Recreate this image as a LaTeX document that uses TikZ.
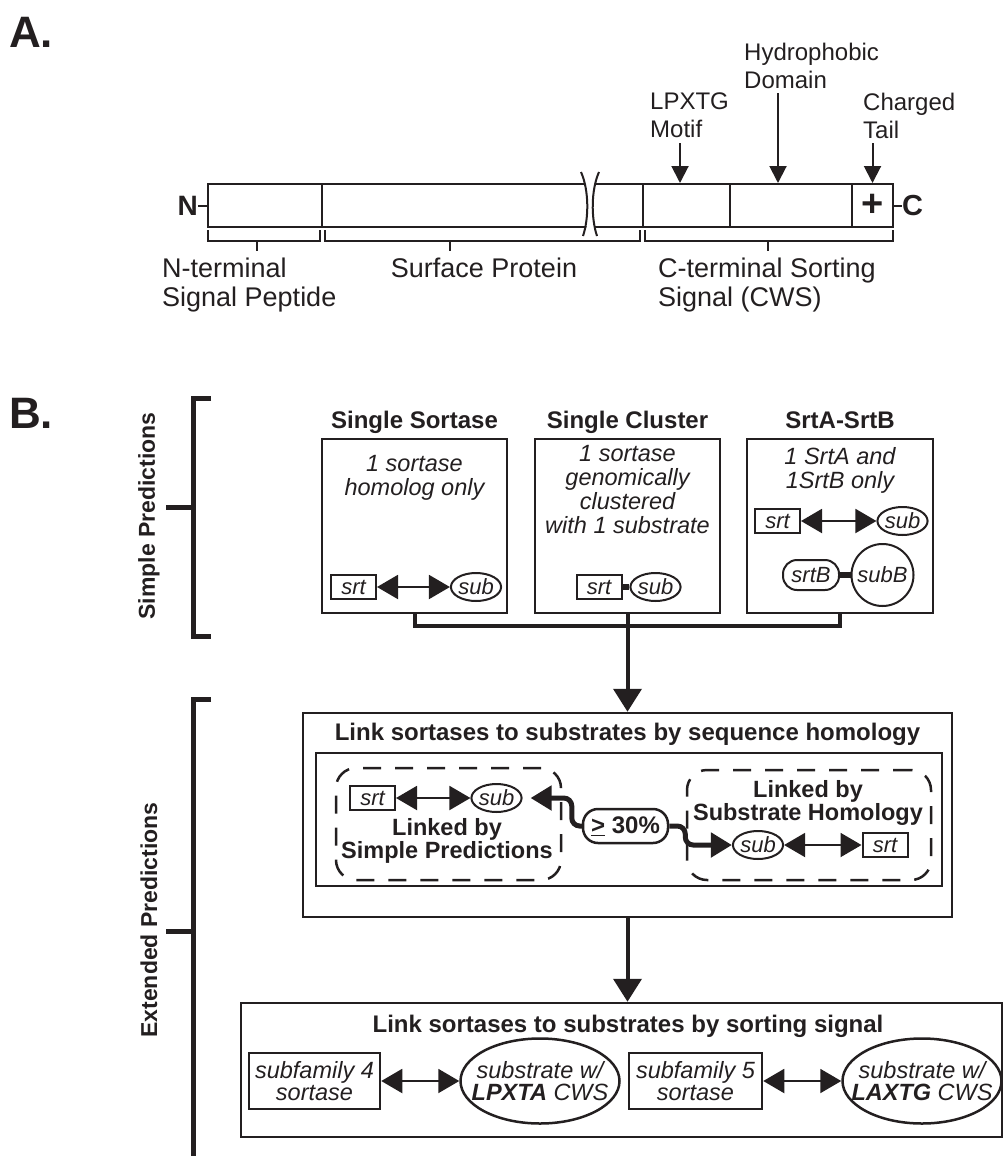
\documentclass[tikz,border=0pt]{standalone}
\usepackage{fontspec}
\setmainfont{Liberation Sans}
\usetikzlibrary{arrows.meta,shapes.geometric,calc}
\definecolor{ink}{HTML}{231F20}
\begin{document}
\begin{tikzpicture}[x=1pt,y=-1pt,
  every node/.style={text=ink},
  ln/.style={draw=ink, line width=2pt},
  arrA/.style={draw=ink, line width=2pt, -{Triangle[length=17pt,width=17pt]}},
  fA/.style={font=\fontsize{24}{28}\selectfont, inner sep=0pt, align=left},
  fAb/.style={font=\fontsize{27}{29}\selectfont, inner sep=0pt, align=left},
  seg/.style={draw=ink, line width=2pt, rectangle, minimum height=43pt, inner sep=0pt},
  hd/.style={font=\bfseries\fontsize{24}{26}\selectfont, inner sep=0pt},
  hdt/.style={font=\bfseries\fontsize{23.5}{21}\selectfont, inner sep=0pt, align=center},
  itx/.style={font=\itshape\fontsize{23.5}{24}\selectfont, inner sep=0pt, align=center},
  itb/.style={font=\itshape\fontsize{23.5}{22.5}\selectfont, inner sep=0pt, align=center},
  box/.style={draw=ink, line width=2.5pt, rectangle, inner sep=0pt},
  dbox/.style={draw=ink, line width=2.5pt, rectangle, rounded corners=20pt, dash pattern=on 18pt off 14pt, inner sep=0pt},
  srtbox/.style={draw=ink, line width=2pt, rectangle, minimum width=45pt, minimum height=24pt, inner sep=0pt, font=\itshape\fontsize{22}{22}\selectfont},
  subell/.style={draw=ink, line width=2pt, ellipse, minimum width=48pt, minimum height=28pt, inner sep=0pt, font=\itshape\fontsize{22}{22}\selectfont},
  biarr/.style={draw=ink, line width=2pt, {Triangle[length=21pt,width=24pt]}-{Triangle[length=21pt,width=24pt]}},
  linkbar/.style={draw=ink, line width=6pt},
  conn/.style={draw=ink, line width=4pt},
  flowarr/.style={draw=ink, line width=4pt, -{Triangle[length=23pt,width=28pt]}},
  wave/.style={draw=ink, line width=5pt, rounded corners=8pt, -{Triangle[length=21pt,width=24pt]}},
  brk/.style={draw=ink, line width=5pt}
]
\useasboundingbox (0,0) rectangle (1005,1156);

% ---------------- Part A ----------------
\node[font=\bfseries\fontsize{44}{44}\selectfont, anchor=north west, inner sep=0pt] (labA) at (9,17) {A.};

\node[seg, minimum width=114pt] (sp) at (265,205.5) {};
\node[seg, minimum width=321pt] (surf) at (482.5,205.5) {};
\node[seg, minimum width=87pt] (lpx) at (686.5,205.5) {};
\node[seg, minimum width=122pt] (hyd) at (791,205.5) {};
\node[seg, minimum width=41pt, font=\bfseries\fontsize{38}{38}\selectfont] (chg) at (872.5,205.5) {+};

% break in the surface protein
\fill[white] (583,178) .. controls (590,192) and (590,218) .. (585,232) -- (596,232) .. controls (590,218) and (590,192) .. (597,178) -- cycle;
\draw[ln] (581,172) .. controls (589,190) and (589,218) .. (583,236);
\draw[ln] (599,172) .. controls (591,190) and (591,218) .. (597,236);

\node[font=\bfseries\fontsize{28}{28}\selectfont, anchor=east, inner sep=0pt] (Nt) at (198,206) {N};
\node[font=\bfseries\fontsize{29}{29}\selectfont, anchor=west, inner sep=0pt] (Ct) at (902,206) {C};
\draw[ln] (Nt.east) -- (Nt.east -| sp.west);
\draw[ln] (chg.east) -- (chg.east -| Ct.west);

\node[fA, anchor=north west] (lpxlab) at (650,93) {LPXTG\\Motif};
\node[fA, anchor=north west] (hydlab) at (744,43) {Hydrophobic\\Domain};
\node[fA, anchor=north west] (chglab) at (863,93) {Charged\\Tail};
\draw[arrA] (680,143) -- (680,0 |- lpx.north);
\draw[arrA] (778,93) -- (778,0 |- hyd.north);
\draw[arrA] (872.5,143) -- (chg.north);

% brackets
\draw[ln] (208,230) -- (208,241) -- (320,241) -- (320,230);
\draw[ln] (257,241) -- (257,251);
\draw[ln] (325,230) -- (325,241) -- (640,241) -- (640,230);
\draw[ln] (450,241) -- (450,251);
\draw[ln] (645,230) -- (645,241) -- (893,241) -- (893,230);
\draw[ln] (768,241) -- (768,251);

\node[fAb, anchor=north west] (ntl) at (162,258) {N-terminal\\Signal Peptide};
\node[fAb, anchor=north] (spl) at (484,258) {Surface Protein};
\node[fAb, anchor=north west] (ctl) at (658,258) {C-terminal Sorting\\Signal (CWS)};

% ---------------- Part B ----------------
\node[font=\bfseries\fontsize{44}{44}\selectfont, anchor=north west, inner sep=0pt] (labB) at (9,398) {B.};

\draw[brk] (211,398) -- (193,398) -- (193,636) -- (211,636);
\draw[brk] (193,507) -- (166,507);
\draw[brk] (211,699) -- (193,699) -- (193,1160);
\draw[brk] (193,931) -- (166,931);
\node[rotate=90, font=\bfseries\fontsize{23}{23}\selectfont, inner sep=0pt] (simp) at (149,516) {Simple Predictions};
\node[rotate=90, font=\bfseries\fontsize{23}{23}\selectfont, inner sep=0pt] (ext) at (149,920) {Extended Predictions};

% top row
\node[box, minimum width=185pt, minimum height=174pt] (b1) at (414.5,526) {};
\node[box, minimum width=185pt, minimum height=174pt] (b2) at (627.5,526) {};
\node[box, minimum width=186pt, minimum height=174pt] (b3) at (840,526) {};
\node[hd, anchor=base] (h1) at (414.5,428) {Single Sortase};
\node[hd, anchor=base] (h2) at (627.5,428) {Single Cluster};
\node[hd, anchor=base] (h3) at (840,428) {SrtA-SrtB};

\node[itx, anchor=north] (t1) at (414.5,455) {1 sortase\\homolog only};
\node[itx, anchor=north] (t2) at (627.5,445) {1 sortase\\genomically\\clustered\\with 1 substrate};
\node[itx, anchor=north] (t3) at (840,447) {1 SrtA and\\1SrtB only};

\node[srtbox] (srt1) at (353.5,587) {srt};
\node[subell] (sub1) at (476,587) {sub};
\draw[biarr] (srt1) -- (sub1);

\node[srtbox] (srt2) at (599,587) {srt};
\node[subell] (sub2) at (655.5,587) {sub};
\draw[linkbar] (srt2) -- (sub2);

\node[srtbox] (srt3) at (777.5,521) {srt};
\node[subell] (sub3) at (902.5,521) {sub};
\draw[biarr] (srt3) -- (sub3);
\node[draw=ink, line width=2pt, rectangle, rounded corners=14pt, minimum width=56pt, minimum height=30pt, inner sep=0pt, font=\itshape\fontsize{22}{22}\selectfont] (srtB) at (811,575) {srtB};
\node[draw=ink, line width=2pt, circle, minimum size=62pt, inner sep=0pt, font=\itshape\fontsize{22}{22}\selectfont] (subB) at (882.5,575) {subB};
\draw[linkbar] (srtB) -- (subB);

\coordinate (j) at (627.5,626);
\draw[conn] (b1.south) |- (j) -| (b3.south);
\draw[conn] (b2.south) -- (j);

% middle box
\node[box, minimum width=649pt, minimum height=204pt] (big) at (627.5,815) {};
\draw[flowarr] (j) -- (big.north);
\node[hd, anchor=base] (bigt) at (627.5,740) {Link sortases to substrates by sequence homology};
\node[box, minimum width=626pt, minimum height=133pt] (inner) at (629,819.5) {};
\node[dbox, minimum width=225pt, minimum height=112pt] (dl) at (448.5,824) {};
\node[dbox, minimum width=244pt, minimum height=110pt] (dr) at (809,825) {};

\node[srtbox] (srtL) at (372.5,798) {srt};
\node[subell] (subL) at (496.5,798) {sub};
\draw[biarr] (srtL) -- (subL);
\node[hdt, anchor=north] (tl) at (447,818) {Linked by\\Simple Predictions};

\node[hdt, anchor=north] (tr) at (808,780) {Linked by\\Substrate Homology};
\node[subell] (subR) at (758,845) {sub};
\node[srtbox] (srtR) at (885,845) {srt};
\draw[biarr] (subR) -- (srtR);

\node[draw=ink, line width=2.5pt, rectangle, rounded corners=15pt, minimum width=85pt, minimum height=34pt, inner sep=0pt, font=\bfseries\fontsize{24}{24}\selectfont] (pct) at (625.5,826) {\underline{>} 30\%};
\draw[wave] (pct.west) -- ++(-10,0) |- ([xshift=8pt]subL.east);
\draw[wave] (pct.east) -- ++(16,0) |- (subR.west);

% bottom box
\node[box, minimum width=761pt, minimum height=134pt] (bot) at (621.5,1070) {};
\draw[flowarr] (big.south) -- (big.south |- bot.north);
\node[hd, anchor=base] (bott) at (628,1032) {Link sortases to substrates by sorting signal};

\node[box, minimum width=131pt, minimum height=56pt, itb] (sf4) at (314.5,1081) {subfamily 4\\sortase};
\node[draw=ink, line width=2.5pt, ellipse, minimum width=159pt, minimum height=85pt, inner sep=0pt] (e1) at (540,1081) {};
\node[itb] (e1t) at (e1.center) {substrate w/\\{\bfseries LPXTA} CWS};
\draw[biarr] (sf4) -- (e1);

\node[box, minimum width=133pt, minimum height=56pt, itb] (sf5) at (695.5,1081) {subfamily 5\\sortase};
\node[draw=ink, line width=2.5pt, ellipse, minimum width=159pt, minimum height=85pt, inner sep=0pt] (e2) at (922,1081) {};
\node[itb] (e2t) at (e2.center) {substrate w/\\{\bfseries LAXTG} CWS};
\draw[biarr] (sf5) -- (e2);
\end{tikzpicture}
\end{document}
